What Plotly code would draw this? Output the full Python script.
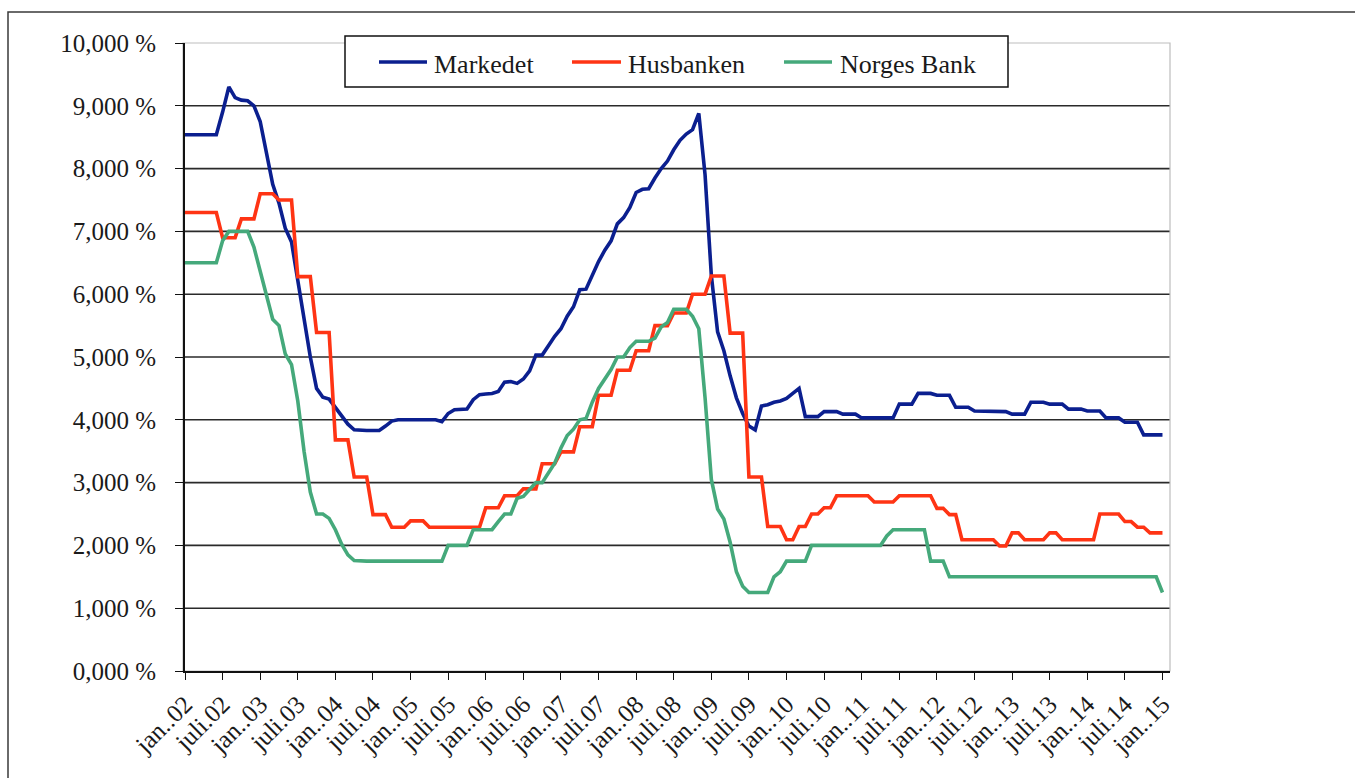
import plotly.graph_objects as go
import pandas as pd

# ---------------- data ----------------
months = [d.strftime("%Y-%m") for d in pd.date_range("2002-01-01", "2015-01-01", freq="MS")]

markedet = [
    8.54, 8.54, 8.54, 8.54, 8.54, 8.54, 8.90, 9.30, 9.13, 9.09, 9.08, 9.00,   # 2002
    8.75, 8.25, 7.75, 7.45, 7.05, 6.83, 6.20, 5.55, 5.00, 4.50, 4.36, 4.33,   # 2003
    4.20, 4.07, 3.93, 3.84, 3.83, 3.83, 3.83, 3.83, 3.90, 3.98, 4.00, 4.00,   # 2004
    4.00, 4.00, 4.00, 4.01, 4.00, 3.97, 4.10, 4.16, 4.17, 4.17, 4.32, 4.40,   # 2005
    4.41, 4.42, 4.45, 4.60, 4.61, 4.58, 4.65, 4.78, 5.03, 5.03, 5.18, 5.33,   # 2006
    5.45, 5.65, 5.80, 6.07, 6.08, 6.30, 6.52, 6.70, 6.85, 7.12, 7.22, 7.38,   # 2007
    7.62, 7.67, 7.68, 7.85, 8.00, 8.12, 8.30, 8.45, 8.55, 8.62, 8.88, 7.90,   # 2008
    6.30, 5.40, 5.10, 4.70, 4.35, 4.10, 3.90, 3.84, 4.22, 4.24, 4.28, 4.30,   # 2009
    4.34, 4.42, 4.50, 4.05, 4.05, 4.05, 4.13, 4.13, 4.13, 4.09, 4.09, 4.09,   # 2010
    4.03, 4.03, 4.03, 4.03, 4.03, 4.03, 4.25, 4.25, 4.25, 4.42, 4.42, 4.42,   # 2011
    4.39, 4.39, 4.39, 4.20, 4.20, 4.20, 4.14, 4.14, 4.14, 4.13, 4.13, 4.13,   # 2012
    4.09, 4.09, 4.09, 4.28, 4.28, 4.28, 4.25, 4.25, 4.25, 4.17, 4.17, 4.17,   # 2013
    4.14, 4.14, 4.14, 4.03, 4.03, 4.03, 3.96, 3.96, 3.96, 3.76, 3.76, 3.76,   # 2014
    3.76,                                                                     # 2015
]

husbanken = [
    7.30, 7.30, 7.30, 7.30, 7.30, 7.30, 6.90, 6.90, 6.90, 7.20, 7.20, 7.20,   # 2002
    7.60, 7.60, 7.60, 7.50, 7.50, 7.50, 6.28, 6.28, 6.28, 5.39, 5.39, 5.39,   # 2003
    3.68, 3.68, 3.68, 3.09, 3.09, 3.09, 2.49, 2.49, 2.49, 2.29, 2.29, 2.29,   # 2004
    2.39, 2.39, 2.39, 2.29, 2.29, 2.29, 2.29, 2.29, 2.29, 2.29, 2.29, 2.29,   # 2005
    2.60, 2.60, 2.60, 2.79, 2.79, 2.79, 2.90, 2.90, 2.90, 3.30, 3.30, 3.30,   # 2006
    3.49, 3.49, 3.49, 3.89, 3.89, 3.89, 4.39, 4.39, 4.39, 4.79, 4.79, 4.79,   # 2007
    5.10, 5.10, 5.10, 5.50, 5.50, 5.50, 5.70, 5.70, 5.70, 6.00, 6.00, 6.00,   # 2008
    6.29, 6.29, 6.29, 5.38, 5.38, 5.38, 3.09, 3.09, 3.09, 2.30, 2.30, 2.30,   # 2009
    2.09, 2.09, 2.30, 2.30, 2.50, 2.50, 2.60, 2.60, 2.79, 2.79, 2.79, 2.79,   # 2010
    2.79, 2.79, 2.69, 2.69, 2.69, 2.69, 2.79, 2.79, 2.79, 2.79, 2.79, 2.79,   # 2011
    2.59, 2.59, 2.49, 2.49, 2.09, 2.09, 2.09, 2.09, 2.09, 2.09, 1.99, 1.99,   # 2012
    2.20, 2.20, 2.09, 2.09, 2.09, 2.09, 2.20, 2.20, 2.09, 2.09, 2.09, 2.09,   # 2013
    2.09, 2.09, 2.50, 2.50, 2.50, 2.50, 2.38, 2.38, 2.29, 2.29, 2.20, 2.20,   # 2014
    2.20,                                                                     # 2015
]

norges_bank = [
    6.50, 6.50, 6.50, 6.50, 6.50, 6.50, 6.85, 7.00, 7.00, 7.00, 7.00, 6.75,   # 2002
    6.35, 5.95, 5.60, 5.50, 5.05, 4.88, 4.30, 3.50, 2.85, 2.50, 2.50, 2.43,   # 2003
    2.25, 2.02, 1.85, 1.76, 1.75, 1.75, 1.75, 1.75, 1.75, 1.75, 1.75, 1.75,   # 2004
    1.75, 1.75, 1.75, 1.75, 1.75, 1.75, 2.00, 2.00, 2.00, 2.00, 2.25, 2.25,   # 2005
    2.25, 2.25, 2.38, 2.50, 2.50, 2.75, 2.78, 2.90, 3.00, 3.00, 3.15, 3.31,   # 2006
    3.55, 3.75, 3.85, 4.00, 4.02, 4.28, 4.50, 4.65, 4.80, 5.00, 5.00, 5.15,   # 2007
    5.25, 5.25, 5.25, 5.30, 5.48, 5.55, 5.76, 5.76, 5.76, 5.65, 5.45, 4.35,   # 2008
    3.05, 2.58, 2.42, 2.05, 1.58, 1.35, 1.25, 1.25, 1.25, 1.25, 1.50, 1.58,   # 2009
    1.75, 1.75, 1.75, 1.75, 2.00, 2.00, 2.00, 2.00, 2.00, 2.00, 2.00, 2.00,   # 2010
    2.00, 2.00, 2.00, 2.00, 2.15, 2.25, 2.25, 2.25, 2.25, 2.25, 2.25, 1.75,   # 2011
    1.75, 1.75, 1.50, 1.50, 1.50, 1.50, 1.50, 1.50, 1.50, 1.50, 1.50, 1.50,   # 2012
    1.50, 1.50, 1.50, 1.50, 1.50, 1.50, 1.50, 1.50, 1.50, 1.50, 1.50, 1.50,   # 2013
    1.50, 1.50, 1.50, 1.50, 1.50, 1.50, 1.50, 1.50, 1.50, 1.50, 1.50, 1.50,   # 2014
    1.25,                                                                     # 2015
]

series_names = ["Markedet", "Husbanken", "Norges Bank"]
series_colors = ["#0B1F8F", "#FF3414", "#45A97B"]

tick_months = months[::6]
tick_labels = [
    "jan..02", "juli.02", "jan..03", "juli.03", "jan..04", "juli.04", "jan..05",
    "juli.05", "jan..06", "juli.06", "jan..07", "juli.07", "jan..08", "juli.08",
    "jan..09", "juli.09", "jan..10", "juli.10", "jan..11", "juli.11", "jan..12",
    "juli.12", "jan..13", "juli.13", "jan..14", "juli.14", "jan..15",
]
y_tick_values = [0, 1, 2, 3, 4, 5, 6, 7, 8, 9, 10]
y_tick_labels = ["0,000 %", "1,000 %", "2,000 %", "3,000 %", "4,000 %", "5,000 %",
                 "6,000 %", "7,000 %", "8,000 %", "9,000 %", "10,000 %"]

# ---------------- layout geometry ----------------
W, H = 1355, 778
ML, MR, MT, MB = 185, 185, 43, 107
PW, PH = W - ML - MR, H - MT - MB
FONT = "Liberation Serif, Times New Roman, serif"
TXT = "#1a1a1a"


def px_x(px):
    return (px - ML) / PW


def px_y(py):
    return (H - MB - py) / PH


fig = go.Figure()
for name, vals, col in zip(series_names, [markedet, husbanken, norges_bank], series_colors):
    fig.add_trace(go.Scatter(
        x=months, y=vals, mode="lines", name=name,
        line=dict(color=col, width=3.6), showlegend=False,
    ))

shapes = []
# horizontal gridlines
for v in y_tick_values[1:-1]:
    shapes.append(dict(type="line", xref="paper", yref="y", x0=0, x1=1, y0=v, y1=v,
                       line=dict(color="#2a2a2a", width=1.6), layer="below"))
# plot area border (light grey)
shapes.append(dict(type="rect", xref="paper", yref="paper", x0=px_x(183), x1=1, y0=0, y1=1,
                   line=dict(color="#bdbdbd", width=1.2), layer="below"))
# outer chart frame (extends past the right / bottom edge of the picture)
shapes.append(dict(type="rect", xref="paper", yref="paper", x0=px_x(8), x1=px_x(1400),
                   y0=px_y(820), y1=px_y(12), line=dict(color="#3a3a3a", width=1.5)))
# legend frame and keys
shapes.append(dict(type="rect", xref="paper", yref="paper", x0=px_x(345), x1=px_x(1008),
                   y0=px_y(87), y1=px_y(36), line=dict(color="#111", width=1.5),
                   fillcolor="white"))
legend_keys = [(379, 427, 432), (572, 621, 626), (784, 832, 838)]
annotations = []
for (a, b, t), name, col in zip(legend_keys, series_names, series_colors):
    shapes.append(dict(type="line", xref="paper", yref="paper", x0=px_x(a), x1=px_x(b),
                       y0=px_y(62), y1=px_y(62), line=dict(color=col, width=3.6)))
    annotations.append(dict(xref="paper", yref="paper", x=px_x(t), y=px_y(64),
                            xanchor="left", yanchor="middle", text=name, showarrow=False,
                            font=dict(family=FONT, size=26, color=TXT)))

fig.update_layout(
    width=W, height=H, autosize=False,
    margin=dict(l=ML, r=MR, t=MT, b=MB, pad=0),
    paper_bgcolor="white", plot_bgcolor="white",
    font=dict(family=FONT, color=TXT),
    shapes=shapes, annotations=annotations,
    xaxis=dict(
        type="category", range=[0, 157.2],
        tickmode="array", tickvals=tick_months, ticktext=tick_labels,
        tickangle=-45, tickfont=dict(family=FONT, size=25, color=TXT),
        ticks="outside", ticklen=7, tickwidth=1.4, tickcolor="#111",
        showline=True, linecolor="#111", linewidth=1.6,
        showgrid=False, zeroline=False,
    ),
    yaxis=dict(
        range=[0, 10], tickmode="array", tickvals=y_tick_values, ticktext=y_tick_labels,
        tickfont=dict(family=FONT, size=25, color=TXT),
        ticks="outside", ticklen=8, tickwidth=1.4, tickcolor="#111",
        ticklabelstandoff=14,
        showline=True, linecolor="#111", linewidth=1.6,
        showgrid=False, zeroline=False,
    ),
)

fig.write_html("out.html", config={"displayModeBar": False},
               post_script="document.body.style.margin='0';")
